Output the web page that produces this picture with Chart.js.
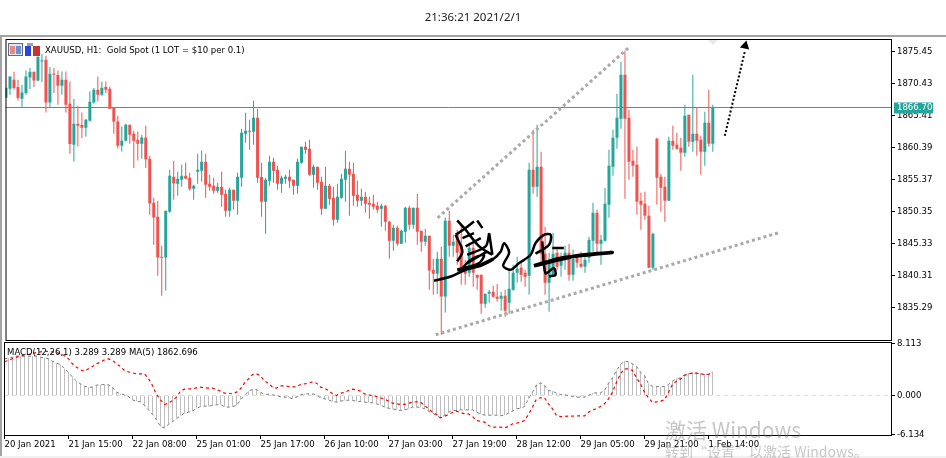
<!DOCTYPE html>
<html>
<head>
<meta charset="utf-8">
<title>XAUUSD H1</title>
<script src="https://cdn.jsdelivr.net/npm/chart.js@4/dist/chart.umd.min.js"></script>
<style>
  html, body { margin: 0; padding: 0; background: #fff; width: 946px; height: 458px; overflow: hidden; }
  canvas { position: absolute; left: 0; top: 0; }
  .txt { position: absolute; white-space: pre; color: #000; font: 9.5px "DejaVu Sans Condensed", "Liberation Sans", sans-serif; }
  .bar { position: absolute; }
  #clock { left: 0; width: 946px; top: 9px; text-align: center; font: 11.5px "Noto Sans", sans-serif; color: #222; }
  .wm { color: rgba(120,120,120,.42); font-family: "Noto Sans CJK SC", "Noto Sans", sans-serif; }
</style>
</head>
<body>
<div class="bar" style="left:0;top:35px;width:946px;height:2px;background:#a3a3a3"></div>
<div class="bar" style="left:0;top:35px;width:2px;height:421px;background:#a3a3a3"></div>
<div class="bar" style="left:0;top:456px;width:946px;height:2px;background:#f0f0f0"></div>
<canvas id="priceChart" width="946" height="458"></canvas>
<canvas id="macdChart" width="946" height="458"></canvas>
<div class="txt" id="clock">21:36:21 2021/2/1</div>
<svg style="position:absolute;left:8px;top:42px" width="34" height="15">
  <rect x="0.5" y="1.5" width="14" height="12" fill="#dfe6f5" stroke="#5a6a94"/>
  <rect x="2" y="4" width="5" height="8" fill="#e58b80"/>
  <rect x="8" y="4" width="5" height="8" fill="#6f8ed0"/>
  <rect x="17" y="4" width="6" height="10" fill="#2b45d8"/>
  <rect x="25" y="4" width="7" height="10" fill="#c4372f"/>
  <rect x="19" y="1" width="6" height="3" fill="#9aa0b5"/>
</svg>
<div class="txt" id="priceLegend" style="left:45px;top:44px">XAUUSD, H1:  Gold Spot (1 LOT = $10 per 0.1)</div>
<div class="txt" id="macdLegend" style="left:7px;top:346px">MACD(12,26,1) 3.289 3.289 MA(5) 1862.696</div>
<div class="bar" style="left:708px;top:40px;border-left:5px solid transparent;border-right:5px solid transparent;border-top:5px solid #eaeaea"></div>
<div class="txt wm" style="left:665px;top:414px;font-size:21px">激活 Windows</div>
<div class="txt wm" style="left:665px;top:441px;font-size:14px">转到“设置”以激活 Windows。</div>

<script>
const opens = [1868.22,1869.64,1871.05,1869.90,1868.07,1868.96,1871.41,1872.30,1870.94,1873.92,1874.19,1867.49,1871.99,1871.79,1870.11,1871.05,1867.28,1860.85,1864.14,1863.94,1863.52,1864.62,1867.49,1869.48,1868.69,1869.90,1869.64,1866.76,1864.51,1860.69,1861.48,1863.99,1862.58,1861.63,1861.01,1861.99,1858.65,1851.75,1849.55,1843.23,1843.17,1850.34,1855.83,1854.73,1855.36,1855.99,1855.67,1853.95,1856.61,1856.77,1858.18,1854.73,1854.42,1853.63,1854.26,1853.16,1850.49,1853.79,1852.06,1855.67,1862.58,1863.05,1862.89,1865.09,1855.78,1851.91,1855.20,1858.18,1856.93,1854.73,1855.52,1855.83,1855.36,1854.42,1858.03,1860.54,1860.22,1856.14,1857.40,1855.04,1850.81,1854.42,1852.53,1849.08,1852.53,1855.36,1857.08,1856.30,1853.00,1852.06,1852.69,1851.75,1851.59,1851.28,1850.81,1851.28,1848.77,1845.79,1847.83,1845.32,1847.20,1850.96,1848.30,1850.96,1847.36,1845.63,1846.57,1841.24,1840.61,1842.96,1837.05,1848.93,1845.00,1847.04,1845.16,1841.55,1840.77,1844.69,1840.45,1840.45,1835.90,1837.47,1837.79,1837.00,1836.69,1837.16,1836.06,1838.10,1840.77,1841.55,1840.77,1840.30,1856.93,1854.26,1857.40,1843.75,1839.20,1840.45,1843.91,1841.87,1842.81,1843.91,1840.45,1843.12,1842.18,1841.71,1843.12,1845.79,1850.18,1845.32,1845.79,1851.44,1857.40,1861.95,1864.93,1871.83,1865.09,1858.34,1857.71,1852.06,1851.59,1849.71,1841.55,1861.79,1855.83,1854.26,1852.06,1861.48,1860.85,1860.38,1859.59,1865.56,1861.32,1862.58,1861.63,1859.75,1864.30,1861.01];
const highs = [1869.79,1871.57,1872.30,1871.05,1870.26,1872.51,1872.88,1872.30,1875.24,1875.13,1874.81,1873.04,1872.88,1872.51,1872.35,1872.35,1870.78,1868.02,1866.97,1865.92,1864.88,1869.21,1869.75,1871.57,1870.78,1870.78,1870.00,1866.76,1865.40,1863.72,1864.14,1863.99,1863.05,1862.94,1862.42,1863.83,1859.12,1852.53,1852.06,1845.00,1850.49,1856.93,1858.34,1856.61,1857.71,1858.07,1856.46,1854.57,1859.44,1859.96,1859.44,1856.14,1855.67,1854.89,1856.61,1853.79,1854.10,1853.79,1856.46,1863.36,1865.87,1864.77,1867.75,1866.50,1858.03,1855.67,1859.12,1858.81,1857.55,1855.99,1856.14,1856.93,1855.36,1858.65,1860.54,1861.32,1861.63,1857.71,1857.40,1855.83,1857.40,1854.73,1854.26,1854.73,1856.30,1859.91,1858.18,1858.03,1855.20,1853.95,1853.47,1852.69,1853.00,1851.91,1851.59,1851.44,1848.93,1848.30,1848.14,1847.51,1851.12,1851.28,1850.96,1853.16,1847.36,1847.67,1846.57,1842.96,1844.06,1844.85,1849.44,1850.49,1846.73,1847.51,1848.30,1842.81,1845.47,1845.47,1840.45,1840.45,1837.47,1838.10,1838.73,1839.04,1837.79,1838.10,1841.24,1842.02,1843.28,1842.49,1841.24,1858.03,1863.20,1863.99,1859.75,1847.98,1843.91,1847.04,1844.85,1843.91,1845.00,1845.32,1844.38,1843.59,1844.06,1843.59,1846.42,1851.75,1850.65,1846.73,1854.10,1860.07,1863.20,1868.85,1873.87,1875.60,1866.34,1860.07,1860.54,1853.32,1853.47,1851.28,1847.04,1861.95,1856.30,1855.83,1862.10,1863.83,1862.73,1861.95,1867.13,1865.56,1871.83,1866.65,1862.26,1866.03,1869.48,1867.13];
const lows = [1868.22,1868.69,1869.48,1867.80,1866.76,1868.69,1869.59,1869.90,1870.78,1870.69,1865.92,1866.76,1868.96,1867.13,1868.69,1865.92,1859.44,1858.23,1860.58,1861.90,1862.15,1864.51,1867.28,1867.64,1868.54,1868.96,1866.45,1862.58,1860.27,1859.80,1861.37,1861.01,1857.19,1858.39,1858.65,1857.19,1849.87,1845.16,1840.30,1837.16,1837.99,1850.18,1852.22,1852.85,1854.26,1855.52,1853.63,1852.22,1854.73,1855.04,1852.53,1853.63,1853.16,1853.32,1851.12,1849.55,1849.55,1850.65,1849.87,1854.26,1861.16,1860.07,1860.85,1854.89,1849.55,1846.89,1854.42,1854.89,1853.79,1853.32,1854.73,1854.10,1853.00,1853.16,1857.87,1859.44,1855.99,1854.10,1853.79,1849.87,1850.81,1851.44,1848.14,1848.61,1852.38,1851.91,1849.71,1851.28,1851.12,1851.28,1850.18,1849.24,1850.65,1850.18,1847.98,1847.36,1842.96,1844.22,1845.00,1845.32,1845.47,1847.51,1847.67,1845.16,1844.06,1845.00,1838.10,1837.32,1837.47,1831.04,1834.54,1843.28,1843.28,1842.02,1838.88,1838.88,1840.14,1838.57,1838.10,1834.33,1835.27,1836.06,1836.84,1836.22,1834.80,1833.86,1834.33,1837.94,1839.20,1839.35,1838.57,1837.32,1853.16,1852.69,1842.49,1837.32,1834.65,1840.14,1841.24,1840.14,1841.24,1839.51,1839.51,1841.55,1841.55,1840.77,1842.34,1844.06,1843.91,1842.02,1845.63,1849.40,1855.99,1860.22,1863.36,1852.38,1855.36,1855.83,1849.87,1847.51,1849.08,1841.55,1841.24,1851.44,1850.34,1848.77,1852.06,1860.07,1860.07,1856.77,1858.97,1860.54,1859.75,1859.12,1856.14,1857.56,1860.54,1859.75];
const closes = [1869.79,1871.57,1869.75,1868.18,1869.06,1871.57,1872.30,1870.94,1874.61,1874.08,1867.49,1871.99,1871.83,1870.11,1871.05,1867.13,1860.96,1864.14,1863.83,1863.52,1864.77,1867.60,1869.48,1868.69,1869.79,1869.48,1866.50,1864.46,1860.69,1861.48,1863.99,1862.42,1861.48,1861.01,1861.99,1858.60,1851.64,1849.44,1843.17,1843.12,1850.49,1855.99,1854.78,1855.52,1855.99,1855.52,1853.95,1854.42,1856.93,1858.18,1854.57,1854.26,1853.63,1854.26,1853.00,1850.49,1853.79,1852.06,1855.83,1862.73,1863.05,1862.89,1865.09,1855.67,1851.91,1855.36,1858.18,1856.77,1854.73,1855.67,1855.83,1855.20,1854.42,1858.18,1860.54,1860.07,1856.14,1857.40,1854.89,1850.81,1854.42,1852.38,1849.08,1852.69,1855.52,1857.08,1856.14,1852.85,1852.06,1852.69,1851.59,1851.44,1851.12,1850.65,1851.28,1848.77,1845.79,1847.83,1845.32,1847.36,1850.96,1848.30,1850.96,1847.20,1845.63,1846.57,1841.13,1840.61,1842.96,1837.05,1848.93,1845.00,1845.63,1843.91,1841.24,1840.61,1844.69,1840.77,1839.98,1835.90,1837.47,1837.79,1837.00,1836.69,1837.16,1834.80,1838.26,1840.77,1841.39,1840.45,1840.14,1856.93,1854.26,1857.40,1843.75,1839.20,1842.81,1843.75,1841.71,1842.65,1843.91,1840.45,1842.96,1842.34,1841.71,1842.81,1845.94,1850.18,1845.32,1845.94,1851.59,1857.55,1861.95,1865.09,1871.83,1864.93,1858.18,1857.55,1851.91,1851.44,1849.71,1841.55,1846.89,1855.67,1854.10,1852.06,1861.48,1860.69,1860.22,1859.59,1865.40,1861.32,1862.58,1861.48,1859.75,1864.30,1861.01,1866.70];

const macdValues = [5.72,5.82,5.98,6.14,6.14,6.14,6.14,6.14,6.14,5.98,5.88,5.72,5.36,5.04,4.84,4.16,3.64,2.86,2.24,1.82,1.46,1.30,1.30,1.61,1.66,1.72,1.66,1.30,.52,.26,.10,-.16,-.68,-.88,-.99,-1.56,-2.24,-2.96,-3.80,-4.84,-5.04,-4.52,-4.06,-3.64,-3.12,-2.76,-2.60,-2.44,-2.03,-1.72,-1.66,-1.66,-1.56,-1.46,-1.40,-1.77,-1.82,-1.72,-1.56,-.68,0,.68,.94,.94,.52,.16,.21,.10,0,-.21,-.26,-.26,-.52,-.26,.10,.26,.26,.26,.10,-.36,-.52,-.68,-.94,-1.04,-.88,-.78,-.73,-.78,-.88,-.94,-1.04,-1.09,-1.14,-1.30,-1.46,-1.82,-1.98,-2.08,-2.24,-2.34,-2.24,-2.08,-1.82,-1.82,-1.82,-2.08,-2.44,-2.76,-3.12,-3.48,-3.12,-2.60,-2.34,-2.34,-2.24,-2.24,-2.24,-2.24,-2.60,-2.86,-3.07,-3.07,-3.07,-3.07,-3.17,-3.07,-2.76,-2.44,-2.08,-1.98,-1.72,-.52,.52,1.66,1.98,1.56,.78,.68,.36,.16,.10,0,-.16,-.26,-.26,-.26,0,.36,.42,.42,.78,1.92,2.76,3.90,4.84,5.36,5.25,4.94,4.52,3.64,3.12,1.82,1.40,1.40,1.40,1.40,1.72,2.24,2.60,2.76,3.22,3.38,3.48,3.48,3.38,3.28,3.28,3.64];
const signalValues = [5.30,5.46,5.77,5.98,6.14,6.29,6.40,6.55,6.71,6.81,6.92,6.86,6.81,6.71,6.50,6.19,5.72,4.94,4.42,4.00,3.80,4.16,4.52,4.94,5.20,5.56,5.72,5.46,4.94,4.52,3.90,3.69,3.54,3.38,3.38,3.38,2.60,1.56,.16,-.68,-1.40,-1.20,-.78,-.26,.68,.99,1.04,1.04,1.20,1.30,1.20,1.14,1.14,.94,.68,.36,.36,.26,.52,1.04,1.92,2.60,3.28,3.38,3.07,2.24,1.92,1.30,1.14,1.51,1.51,1.40,1.35,1.35,1.72,1.82,1.92,2.13,1.92,1.30,1.14,.78,.26,0,.36,.47,.78,.99,.88,.68,.26,.10,-.05,-.16,-.36,-.52,-.88,-1.20,-1.30,-1.40,-1.40,-1.20,-1.04,-.99,-1.04,-1.56,-2.08,-2.60,-2.96,-3.48,-3.28,-2.96,-2.65,-2.44,-2.65,-2.86,-2.86,-3.28,-3.90,-4.00,-4.16,-4.68,-4.94,-4.94,-4.94,-5.04,-4.84,-4.42,-4.32,-4.16,-3.90,-2.96,-1.82,-.52,-.36,-.36,-1.30,-2.08,-3.12,-3.28,-3.28,-3.22,-3.22,-3.17,-3.17,-3.17,-2.60,-2.24,-2.08,-1.72,-1.30,-.52,.52,2.08,3.38,4.16,4.16,3.90,2.76,1.82,.52,-.36,-1.09,-.99,-.88,-.68,.52,1.72,2.24,2.55,3.12,3.38,3.48,3.48,3.38,3.28,3.28,3.64];

const priceTicks = [1875.45, 1870.43, 1865.41, 1860.39, 1855.37, 1850.35, 1845.33, 1840.31, 1835.29];
const macdTicks = [8.113, 0, -6.134];
const timeLabels = ["20 Jan 2021", "21 Jan 15:00", "22 Jan 08:00", "25 Jan 01:00", "25 Jan 17:00", "26 Jan 10:00", "27 Jan 03:00", "27 Jan 19:00", "28 Jan 12:00", "29 Jan 05:00", "29 Jan 21:00", "1 Feb 14:00"];
const labelEvery = 16;
const bidPrice = 1866.70;

// drawn trend lines, in bar index / price
const upperLineX = [108.1, 155.9];
const upperLineY = [1849.40, 1876.07];
const lowerLineX = [107.6, 193.4];
const lowerLineY = [1831.04, 1847.04];
const arrowX = [180, 185];
const arrowY = [1862.26, 1875.44];
const arrowHead = [185.1, 1876.38];

// signature scribbled over the chart, null breaks a stroke
const sigX = [107.2,111.4,114.7,118.5,121.8,123.9,124.7,126.0,124.5,126.4,128.5,131.4,132.6,134.7,136.4,136.0,132.6,null,113.0,115.1,118.5,121.8,null,112.6,114.3,113.0,null,112.6,115.1,117.2,null,118.0,119.3,null,113.9,116.4,119.7,118.5,114.7,null,121.0,120.1,115.5,null,134.3,135.1,137.2,137.6,136.0,null,114.3,117.2,null,115.1,118.9,null,121.0,121.8,null,115.5,120.5,null,136.8,139.7];
const sigY = [1839.51,1840.19,1841.13,1841.87,1842.81,1844.12,1845.42,1843.96,1841.87,1841.24,1842.29,1843.59,1845.42,1846.73,1846.73,1845.16,1843.75,null,1848.98,1847.51,1844.90,1843.59,null,1846.73,1844.12,1842.55,null,1846.73,1847.78,1848.82,null,1848.98,1847.78,null,1841.24,1842.81,1843.59,1842.29,1841.50,null,1846.99,1844.90,1843.59,null,1845.68,1840.70,1841.50,1840.45,1840.19,null,1846.21,1846.99,null,1844.90,1846.21,null,1846.99,1843.59,null,1842.29,1844.12,null,1844.64,1844.64];
const sigBoldX = [113.0,118.5,122.0,null,132.2,138.9,151.8,143.0,132.2];
const sigBoldY = [1841.20,1841.87,1842.90,null,1841.87,1843.07,1843.96,1843.44,1841.87];

const UP = "#26a69a";
const DOWN = "#ef5350";
const FONT_FAMILY = '"DejaVu Sans Condensed", "Liberation Sans", sans-serif';
const TICK_FONT = { family: FONT_FAMILY, size: 9.5 };
const X_MIN = -0.125, X_MAX = 221.625;

const zip = (xs, ys) => xs.map((x, i) => ({ x: x, y: ys[i] }));
const barColors = opens.map((o, i) => closes[i] >= o ? UP : DOWN);

const frame = {
  id: "frame",
  afterDraw(chart) {
    const a = chart.chartArea, c = chart.ctx;
    c.save();
    c.strokeStyle = "#000";
    c.lineWidth = 1;
    c.strokeRect(a.left + 0.5, a.top + 0.5, a.right - a.left, a.bottom - a.top);
    c.restore();
  }
};

const bidTag = {
  id: "bidTag",
  afterDraw(chart) {
    const y = chart.scales.y.getPixelForValue(bidPrice), c = chart.ctx;
    c.save();
    c.fillStyle = UP;
    c.fillRect(894, Math.round(y) - 5.5, 39, 11);
    c.fillStyle = "#fff";
    c.font = "9.5px " + FONT_FAMILY;
    c.textBaseline = "middle";
    c.fillText(bidPrice.toFixed(2), 897, y + 0.5);
    c.restore();
  }
};

new Chart(document.getElementById("priceChart"), {
  type: "bar",
  plugins: [frame, bidTag],
  data: {
    datasets: [
      { type: "line", data: zip([X_MIN, X_MAX], [bidPrice, bidPrice]), borderColor: UP, borderWidth: 1, pointRadius: 0, order: 5 },
      { data: lows.map((l, i) => ({ x: i, y: [l, highs[i]] })), backgroundColor: barColors, barThickness: 1, inflateAmount: 0, grouped: false, order: 4 },
      { data: opens.map((o, i) => ({ x: i, y: [o, closes[i]] })), backgroundColor: barColors, barThickness: 3, inflateAmount: 0, minBarLength: 1, grouped: false, order: 3 },
      { type: "line", data: zip(upperLineX, upperLineY), borderColor: "#a9a9a9", borderWidth: 3, borderDash: [3, 3], pointRadius: 0, order: 2 },
      { type: "line", data: zip(lowerLineX, lowerLineY), borderColor: "#a9a9a9", borderWidth: 3, borderDash: [3, 3], pointRadius: 0, order: 2 },
      { type: "line", data: zip(arrowX, arrowY), borderColor: "#000", borderWidth: 2, borderDash: [2, 2], pointRadius: 0, order: 1 },
      { type: "line", data: [{ x: arrowHead[0], y: arrowHead[1] }], pointStyle: "triangle", pointRadius: 5.5, pointRotation: 13, pointBackgroundColor: "#000", pointBorderWidth: 0, showLine: false, order: 1 },
      { type: "line", data: zip(sigX, sigY), borderColor: "#000", borderWidth: 2.5, pointRadius: 0, tension: 0.3, spanGaps: false, order: 0 },
      { type: "line", data: zip(sigBoldX, sigBoldY), borderColor: "#000", borderWidth: 3.5, pointRadius: 0, tension: 0.2, spanGaps: false, order: 0 }
    ]
  },
  options: {
    responsive: false,
    animation: false,
    layout: { padding: { left: 4, top: 39, bottom: 118, right: 0 } },
    plugins: { legend: { display: false }, tooltip: { enabled: false } },
    scales: {
      x: { type: "linear", display: false, offset: false, min: X_MIN, max: X_MAX, grid: { offset: false } },
      y: {
        position: "right",
        min: 1830.22,
        max: 1877.45,
        border: { display: false },
        grid: { drawOnChartArea: false, color: "#000", tickLength: 4 },
        afterBuildTicks: s => { s.ticks = priceTicks.map(v => ({ value: v })); },
        afterFit: s => { s.width = 55; },
        ticks: { color: "#000", font: TICK_FONT, padding: 2, callback: v => v.toFixed(2) }
      }
    }
  }
});

new Chart(document.getElementById("macdChart"), {
  type: "bar",
  plugins: [frame],
  data: {
    datasets: [
      { type: "line", data: zip([X_MIN, X_MAX], [0, 0]), borderColor: "#dcdcdc", borderWidth: 1, borderDash: [4, 4], pointRadius: 0, order: 3 },
      { data: macdValues.map((v, i) => ({ x: i, y: v })), backgroundColor: "#bdbdbd", barThickness: 1, inflateAmount: 0, order: 2 },
      { type: "line", data: macdValues.map((v, i) => ({ x: i, y: v })), borderColor: "#7a7a7a", borderWidth: 1, borderDash: [3, 3], pointRadius: 0, order: 1 },
      { type: "line", data: signalValues.map((v, i) => ({ x: i, y: v })), borderColor: "#ff0000", borderWidth: 1.2, borderDash: [3, 3], pointRadius: 0, order: 0 }
    ]
  },
  options: {
    responsive: false,
    animation: false,
    layout: { padding: { left: 4, top: 342, bottom: 0, right: 0 } },
    plugins: { legend: { display: false }, tooltip: { enabled: false } },
    scales: {
      x: {
        type: "linear",
        offset: false,
        min: X_MIN,
        max: X_MAX,
        border: { display: false },
        grid: { offset: false, drawOnChartArea: false, color: "#000", tickLength: 4 },
        afterBuildTicks: s => { s.ticks = timeLabels.map((_, i) => ({ value: i * labelEvery })); },
        afterFit: s => { s.height = 23; },
        ticks: { color: "#000", font: TICK_FONT, align: "start", maxRotation: 0, autoSkip: false, padding: 0, callback: v => timeLabels[v / labelEvery] }
      },
      y: {
        position: "right",
        min: -6.162,
        max: 8.346,
        border: { display: false },
        grid: { drawOnChartArea: false, color: "#000", tickLength: 4 },
        afterBuildTicks: s => { s.ticks = macdTicks.map(v => ({ value: v })); },
        afterFit: s => { s.width = 55; },
        ticks: { color: "#000", font: TICK_FONT, padding: 2, callback: v => v.toFixed(3) }
      }
    }
  }
});
</script>
</body>
</html>
